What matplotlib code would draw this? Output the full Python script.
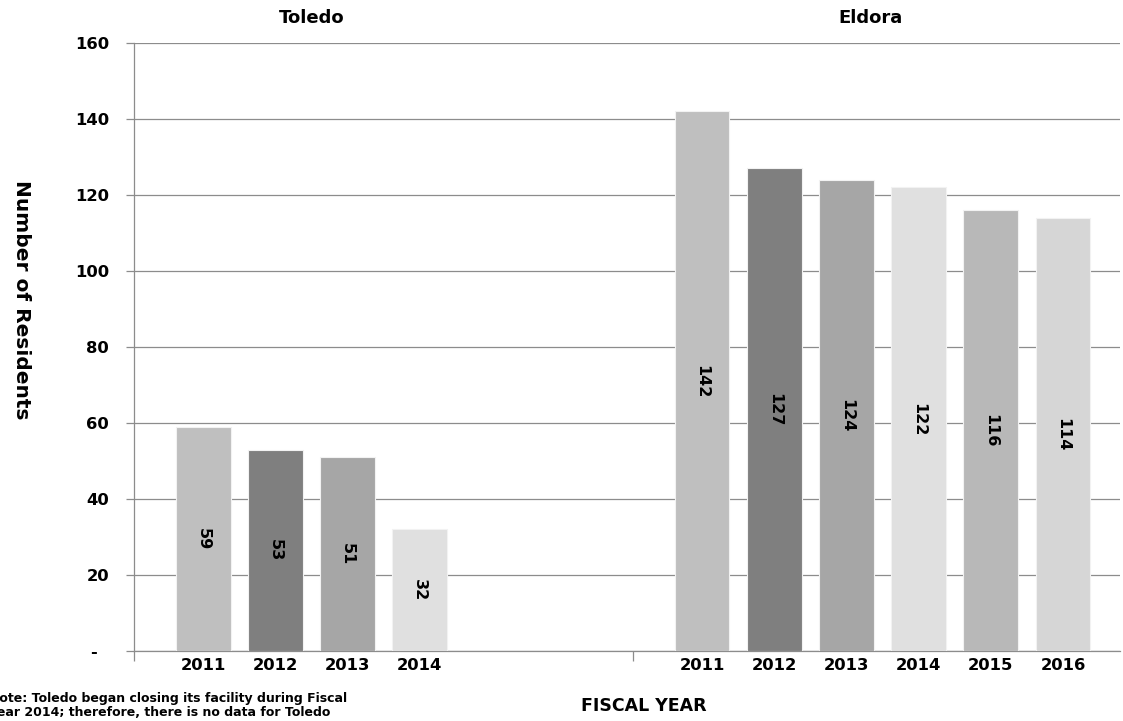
import matplotlib
matplotlib.use("Agg")
import matplotlib.pyplot as plt
import numpy as np

plt.rcParams['font.family'] = ['DejaVu Sans']
plt.rcParams['font.weight'] = 'bold'

toledo_years = ["2011", "2012", "2013", "2014"]
toledo_values = [59, 53, 51, 32]
eldora_years = ["2011", "2012", "2013", "2014", "2015", "2016"]
eldora_values = [142, 127, 124, 122, 116, 114]
year_colors = {"2011": "#BFBFBF", "2012": "#7F7F7F", "2013": "#A6A6A6",
               "2014": "#E0E0E0", "2015": "#B8B8B8", "2016": "#D6D6D6"}
yticks = [0, 20, 40, 60, 80, 100, 120, 140, 160]
ytick_labels = ["-  ", "20", "40", "60", "80", "100", "120", "140", "160"]

W, H = 1123, 721
fig = plt.figure(figsize=(W / 100, H / 100), dpi=100)
ax = fig.add_axes([134/W, 70/H, (1120-134)/W, (651-43)/H])

left_start, right_start, sep = 0.96, 7.87, 6.91
width = 0.76

def draw_group(start, years, values):
    xs = start + np.arange(len(years))
    cols = [year_colors[y] for y in years]
    ax.bar(xs, values, width=width, color=cols, edgecolor="#F2F2F2", linewidth=0.8, zorder=3)
    for x, v in zip(xs, values):
        ax.text(x, v / 2, str(v), rotation=270, ha="center", va="center",
                fontsize=11.5, fontweight="bold", zorder=4)
    return xs

xl = draw_group(left_start, toledo_years, toledo_values)
xr = draw_group(right_start, eldora_years, eldora_values)

ax.set_xlim(0, 13.66)
ax.set_ylim(0, 160)
ax.set_yticks(yticks)
ax.set_yticklabels(ytick_labels, fontsize=11.8, fontweight="bold")
ax.yaxis.grid(True, color="#8C8C8C", linewidth=0.9, zorder=0)
ax.set_axisbelow(True)

ax.set_xticks(list(xl) + list(xr))
ax.set_xticklabels(toledo_years + eldora_years, fontsize=11.8, fontweight="bold")
ax.tick_params(axis="x", length=0, pad=5)
ax.set_xticks([0, sep], minor=True)
ax.tick_params(axis="x", which="minor", length=7, color="#8C8C8C", width=0.9)
ax.tick_params(axis="y", length=6, color="#8C8C8C", width=0.9, pad=12)

for s in ["top", "right"]:
    ax.spines[s].set_visible(False)
for s in ["left", "bottom"]:
    ax.spines[s].set_color("#8C8C8C")
    ax.spines[s].set_linewidth(0.9)

fig.text(ax.transData.transform((xl.mean(), 0))[0] / W, 1 - 18/H, "Toledo",
         ha="center", va="center", fontsize=13, fontweight="bold")
fig.text(870/W, 1 - 18/H, "Eldora",
         ha="center", va="center", fontsize=13, fontweight="bold")

fig.text(21/W, 1 - 300/H, "Number of Residents", rotation=270, ha="center", va="center",
         fontsize=14.5, fontweight="bold")
fig.text(644/W, 1 - 706/H, "FISCAL YEAR", ha="center", va="center",
         fontsize=12.5, fontweight="bold")
fig.text(-11/W, 1 - 692/H,
         "Note: Toledo began closing its facility during Fiscal\nYear 2014; therefore, there is no data for Toledo",
         ha="left", va="top", fontsize=9, fontweight="bold", linespacing=1.15)

fig.savefig("out.png", dpi=100)
